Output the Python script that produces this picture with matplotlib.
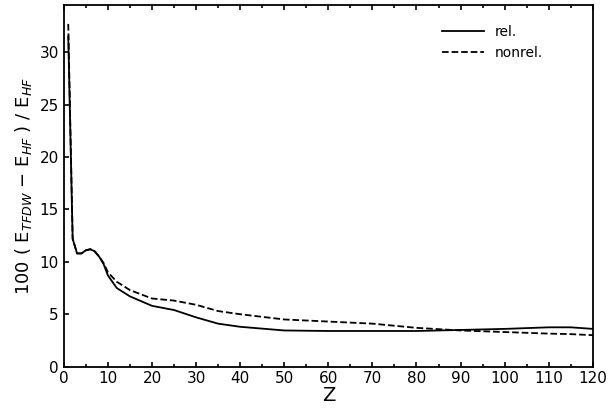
import matplotlib.pyplot as plt

z = [1, 2, 3, 4, 5, 6, 7, 8, 9, 10, 12, 15, 20, 25, 30, 35, 40, 50, 60, 70, 80, 90, 100, 110, 115, 120]
rel = [31.5, 12.2, 10.8, 10.8, 11.1, 11.2, 11.0, 10.5, 9.8, 8.7, 7.5, 6.7, 5.8, 5.4, 4.7, 4.1, 3.8,
       3.45, 3.4, 3.4, 3.4, 3.5, 3.6, 3.75, 3.75, 3.6]
nonrel = [32.7, 12.2, 10.8, 10.8, 11.1, 11.2, 11.0, 10.5, 9.9, 9.0, 8.1, 7.3, 6.5, 6.3, 5.9, 5.3, 5.0,
          4.5, 4.3, 4.1, 3.7, 3.45, 3.3, 3.15, 3.1, 3.0]

fig, ax = plt.subplots(figsize=(6.08, 4.19), dpi=100)
fig.subplots_adjust(left=0.105, right=0.975, top=0.988, bottom=0.125)

ax.plot(z, rel, "k-", lw=1.3, label="rel.")
ax.plot(z, nonrel, "k--", lw=1.3, label="nonrel.")

ax.set_xlim(0, 120)
ax.set_ylim(0, 34.5)
ax.set_xticks(range(0, 121, 10))
ax.set_yticks(range(0, 31, 5))
ax.set_xticks(range(0, 121, 5), minor=True)
ax.tick_params(direction="in", top=True, which="both", labelsize=11, width=1.2)
for s in ax.spines.values():
    s.set_linewidth(1.3)
ax.set_xlabel("Z", fontsize=14, labelpad=0)
ax.set_ylabel(r"100 ( E$_{TFDW}$ $-$ E$_{HF}$ ) / E$_{HF}$", fontsize=13)
ax.legend(loc="upper right", bbox_to_anchor=(0.93, 0.98), frameon=False, fontsize=10, handlelength=3)

fig.savefig("out.png")
